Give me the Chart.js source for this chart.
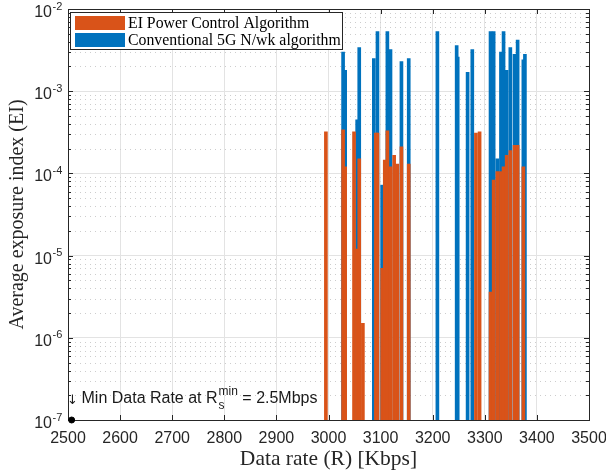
<!DOCTYPE html>
<html><head><meta charset="utf-8">
<script src="https://cdn.jsdelivr.net/npm/chart.js@4.4.0/dist/chart.umd.min.js"></script>
<style>html,body{margin:0;padding:0;background:#fff}canvas{display:block}</style>
</head><body>
<canvas id="c" width="606" height="472"></canvas>
<script>
// ---- data ----
const rates = [2995, 3028, 3032, 3049, 3055, 3059, 3066, 3087, 3091, 3094, 3103, 3108, 3113, 3119, 3126, 3132, 3140, 3154,
               3209, 3246, 3248, 3267, 3276, 3283, 3290, 3311, 3317, 3324, 3331, 3336, 3342, 3349, 3357, 3363, 3374, 3377];
const eiValues = [3.2e-4, 3.4e-4, 1.2e-4, 3.2e-4, 1.2e-5, 1.5e-4, 1.5e-6, null, 3.1e-4, 3.1e-4, 7e-6, 1.45e-4, 3.3e-4, 1.2e-4, 1.66e-4, 1.3e-4, 2.1e-4, 1.3e-4,
                  null, null, null, null, null, 3.1e-4, 3.2e-4, 3.6e-6, 8.3e-5, 1.05e-4, 1.05e-4, 1.2e-4, 1.66e-4, 1.9e-4, 2.2e-4, 2.2e-4, 1.2e-4, null];
const convValues = [null, 3.0e-3, 1.8e-3, null, 4.5e-4, 3.4e-3, null, 2.5e-3, null, 5.3e-3, 7.2e-5, null, 5.3e-3, 3.2e-3, null, null, 2.3e-3, 2.5e-3,
                    5.3e-3, 3.6e-3, 2.6e-3, 1.7e-3, 3.2e-3, null, null, 5.3e-3, 5.3e-3, 1.5e-4, 3.0e-3, 5.3e-3, 1.8e-3, 3.4e-3, 2.8e-3, 4.2e-3, 2.4e-3, 2.8e-3];
const minRatePoint = [{x: 2507, y: 1e-7}];
const xTicks = [2500, 2600, 2700, 2800, 2900, 3000, 3100, 3200, 3300, 3400, 3500];
const yExponents = [-7, -6, -5, -4, -3, -2];
const seriesNames = ['EI Power Control Algorithm', 'Conventional 5G N/wk algorithm'];
const xTitle = 'Data rate (R) [Kbps]';
const yTitle = 'Average exposure index (EI)';
const noteMain = 'Min Data Rate at R';
const noteSub = 's';
const noteSup = 'min';
const noteTail = ' = 2.5Mbps';

const toPoints = vals => rates.map((r, i) => vals[i] == null ? null : {x: r, y: vals[i]}).filter(Boolean);
const yTicks = yExponents.map(e => Math.pow(10, e));

const SANS = '"Liberation Sans", Arial, Helvetica, sans-serif';
const SERIF = '"Liberation Serif", "Times New Roman", serif';
const AX = '#262626';

const matlabPlugin = {
  id: 'matlab',
  beforeDatasetsDraw(chart) {
    const {ctx, chartArea: a, scales: {x, y}} = chart;
    ctx.save();
    // minor dotted grid (log)
    ctx.strokeStyle = '#cdcdcd';
    ctx.lineWidth = 1;
    ctx.setLineDash([1, 4]);
    for (let i = 0; i < yExponents.length - 1; i++) {
      for (let k = 2; k <= 9; k++) {
        const py = Math.round(y.getPixelForValue(k * Math.pow(10, yExponents[i]))) + 0.5;
        ctx.beginPath(); ctx.moveTo(a.left + 2, py); ctx.lineTo(a.right, py); ctx.stroke();
      }
    }
    ctx.setLineDash([]);
    // tick marks
    ctx.strokeStyle = AX;
    ctx.beginPath();
    xTicks.forEach(v => {
      const px = Math.round(x.getPixelForValue(v)) + 0.5;
      ctx.moveTo(px, a.bottom); ctx.lineTo(px, a.bottom - 5);
      ctx.moveTo(px, a.top); ctx.lineTo(px, a.top + 5);
    });
    yTicks.forEach(v => {
      const py = Math.round(y.getPixelForValue(v)) + 0.5;
      ctx.moveTo(a.left, py); ctx.lineTo(a.left + 5, py);
      ctx.moveTo(a.right, py); ctx.lineTo(a.right - 5, py);
    });
    for (let i = 0; i < yExponents.length - 1; i++) {
      for (let k = 2; k <= 9; k++) {
        const py = Math.round(y.getPixelForValue(k * Math.pow(10, yExponents[i]))) + 0.5;
        ctx.moveTo(a.left, py); ctx.lineTo(a.left + 3, py);
        ctx.moveTo(a.right, py); ctx.lineTo(a.right - 3, py);
      }
    }
    ctx.stroke();
    ctx.restore();
  },
  afterDraw(chart) {
    const {ctx, chartArea: a, scales: {x, y}} = chart;
    ctx.save();
    // box
    ctx.strokeStyle = AX; ctx.lineWidth = 1;
    ctx.beginPath();
    ctx.moveTo(Math.round(a.left) + 0.5, Math.round(a.top) + 0.5);
    ctx.lineTo(Math.round(a.right) + 0.5, Math.round(a.top) + 0.5);
    ctx.lineTo(Math.round(a.right) + 0.5, Math.round(a.bottom) + 0.5);
    ctx.stroke();
    // y tick labels 10^e
    ctx.fillStyle = AX;
    yExponents.forEach(e => {
      const py = y.getPixelForValue(Math.pow(10, e));
      ctx.font = '16px ' + SANS; ctx.textAlign = 'right'; ctx.textBaseline = 'alphabetic';
      ctx.fillText('10', 52, py + 8);
      ctx.font = '11px ' + SANS; ctx.textAlign = 'left';
      ctx.fillText(String(e), 52.5, py + 0.5);
    });
    // legend
    const lx = 70.5, ly = 12.5, lw = 272, lh = 37;
    ctx.fillStyle = '#fff'; ctx.fillRect(lx, ly, lw, lh);
    ctx.strokeStyle = AX; ctx.strokeRect(lx, ly, lw, lh);
    chart.data.datasets.slice(0, 2).forEach((ds, i) => {
      const ry = 16 + i * 17;
      ctx.fillStyle = ds.backgroundColor;
      ctx.fillRect(75, ry, 50, 14);
      ctx.fillStyle = '#000';
      ctx.font = '15.8px ' + SERIF; ctx.textAlign = 'left'; ctx.textBaseline = 'middle';
      ctx.fillText(ds.label, 128, ry + 7.5);
    });
    // annotation
    const bx = x.getPixelForValue(2500), by = y.getPixelForValue(1e-7);
    ctx.fillStyle = '#1a1a1a';
    ctx.textBaseline = 'alphabetic'; ctx.textAlign = 'left';
    ctx.font = '13px "DejaVu Sans", sans-serif';
    ctx.fillText('\u2193', bx - 1, by - 16);
    ctx.font = '16px ' + SANS;
    let tx = bx + 13.5;
    const baseY = by - 17;
    ctx.fillText(noteMain, tx, baseY);
    tx += ctx.measureText(noteMain).width + 1;
    ctx.font = '12px ' + SANS;
    ctx.fillText(noteSub, tx, baseY + 5.5);
    ctx.fillText(noteSup, tx, baseY - 8.5);
    tx += Math.max(ctx.measureText(noteSub).width, ctx.measureText(noteSup).width);
    ctx.font = '16px ' + SANS;
    ctx.fillText(noteTail, tx, baseY);
    ctx.restore();
  }
};

new Chart(document.getElementById('c'), {
  type: 'bar',
  data: {
    datasets: [
      {label: seriesNames[0], data: toPoints(eiValues), backgroundColor: '#D95319', borderWidth: 0, barThickness: 3, grouped: false},
      {label: seriesNames[1], data: toPoints(convValues), backgroundColor: '#0072BD', borderWidth: 0, barThickness: 3, grouped: false},
      {type: 'scatter', label: 'min rate', data: minRatePoint, backgroundColor: '#000', borderColor: '#000', pointRadius: 3, clip: false}
    ]
  },
  options: {
    responsive: false, animation: false, devicePixelRatio: 1,
    layout: {padding: {top: 9, right: 17, left: 0, bottom: 0}},
    plugins: {legend: {display: false}, tooltip: {enabled: false}},
    scales: {
      x: {
        type: 'linear', min: 2500, max: 3500, offset: false,
        afterBuildTicks: s => { s.ticks = xTicks.map(v => ({value: v})); },
        afterFit: s => { s.height = 52; s.paddingLeft = 0; s.paddingRight = 0; },
        ticks: {autoSkip: false, maxRotation: 0, minRotation: 0, padding: 9, color: AX, font: {family: SANS, size: 16}, callback: v => String(v)},
        grid: {color: '#e3e3e3', drawTicks: false, offset: false, lineWidth: 1},
        border: {display: true, color: AX, width: 1},
        title: {display: true, text: xTitle, color: AX, font: {family: SERIF, size: 21.5}, padding: {top: 0, bottom: 0}}
      },
      y: {
        type: 'logarithmic', min: 1e-7, max: 1e-2,
        afterBuildTicks: s => { s.ticks = yTicks.map(v => ({value: v, major: true})); },
        afterFit: s => { s.width = 68; s.paddingTop = 0; s.paddingBottom = 0; },
        ticks: {display: false},
        grid: {color: '#e3e3e3', drawTicks: false, lineWidth: 1},
        border: {display: true, color: AX, width: 1},
        title: {display: true, text: yTitle, color: AX, font: {family: SERIF, size: 20}, padding: {top: 6, bottom: 0}}
      }
    }
  },
  plugins: [matlabPlugin]
});
</script>
</body></html>
